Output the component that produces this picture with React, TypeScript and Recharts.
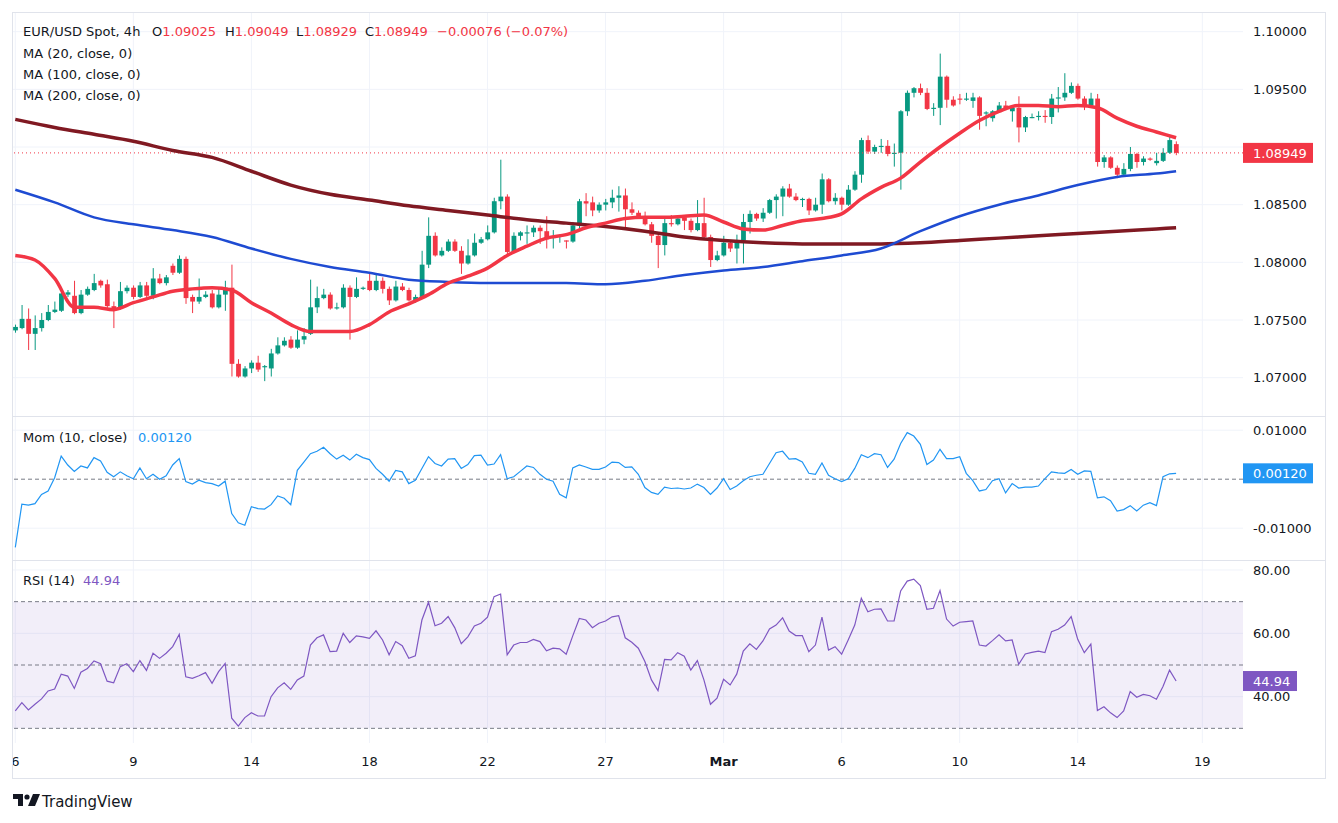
import React from 'react';
import {
  ComposedChart,
  Bar,
  Line,
  XAxis,
  YAxis,
  CartesianGrid,
  ReferenceLine,
  ReferenceArea,
} from 'recharts';

// ---------- DATA ----------
const OPEN = [
  1.0741, 1.0743, 1.0751, 1.0738, 1.0743, 1.0750, 1.0757, 1.0758, 1.0772, 1.0771,
  1.0756, 1.0772, 1.0776, 1.0784, 1.0781, 1.0762, 1.0760, 1.0775, 1.0778, 1.0770,
  1.0780, 1.0771, 1.0786, 1.0782, 1.0797, 1.0791, 1.0803, 1.0770, 1.0766, 1.0770,
  1.0773, 1.0761, 1.0772, 1.0778, 1.0712, 1.0701, 1.0708, 1.0713, 1.0709, 1.0708,
  1.0721, 1.0728, 1.0733, 1.0726, 1.0733, 1.0738, 1.0761, 1.0769, 1.0772, 1.0760,
  1.0761, 1.0778, 1.0770, 1.0777, 1.0784, 1.0776, 1.0784, 1.0777, 1.0767, 1.0779,
  1.0776, 1.0767, 1.0770, 1.0798, 1.0823, 1.0806, 1.0810, 1.0818, 1.0810, 1.0799,
  1.0806, 1.0817, 1.0820, 1.0826, 1.0853, 1.0857, 1.0809, 1.0823, 1.0825, 1.0826,
  1.0830, 1.0827, 1.0821, 1.0823, 1.0819, 1.0818, 1.0832, 1.0853, 1.0852, 1.0845,
  1.0850, 1.0852, 1.0856, 1.0858, 1.0846, 1.0843, 1.0840, 1.0833, 1.0823, 1.0815,
  1.0834, 1.0833, 1.0839, 1.0836, 1.0828, 1.0834, 1.0822, 1.0802, 1.0806, 1.0817,
  1.0812, 1.0819, 1.0835, 1.0842, 1.0838, 1.0843, 1.0854, 1.0857, 1.0864, 1.0857,
  1.0854, 1.0855, 1.0845, 1.0850, 1.0872, 1.0853, 1.0856, 1.0850, 1.0863, 1.0876,
  1.0906, 1.0896, 1.0900, 1.0901, 1.0894, 1.0895, 1.0931, 1.0947, 1.0951, 1.0947,
  1.0933, 1.0934, 1.0961, 1.0941, 1.0942, 1.0941, 1.0940, 1.0943, 1.0929, 1.0925,
  1.0931, 1.0936, 1.0931, 1.0934, 1.0917, 1.0925, 1.0926, 1.0927, 1.0926, 1.0942,
  1.0943, 1.0947, 1.0953, 1.0942, 1.0936, 1.0942, 1.0887, 1.0891, 1.0882, 1.0876,
  1.0881, 1.0894, 1.0887, 1.0890, 1.0886, 1.0888, 1.0895, 1.09025,
];
const HIGH = [
  1.0746, 1.0763, 1.0760, 1.0754, 1.0756, 1.0763, 1.0766, 1.0774, 1.0776, 1.0784,
  1.0776, 1.0779, 1.0790, 1.0785, 1.0785, 1.0766, 1.0783, 1.0780, 1.0780, 1.0783,
  1.0783, 1.0795, 1.0790, 1.0789, 1.0799, 1.0806, 1.0805, 1.0772, 1.0786, 1.0775,
  1.0776, 1.0777, 1.0784, 1.0798, 1.0716, 1.0710, 1.0715, 1.0719, 1.0711, 1.0725,
  1.0735, 1.0735, 1.0736, 1.0741, 1.0743, 1.0785, 1.0779, 1.0777, 1.0774, 1.0765,
  1.0781, 1.0780, 1.0787, 1.0779, 1.0790, 1.0790, 1.0787, 1.0779, 1.0784, 1.0782,
  1.0778, 1.0772, 1.0810, 1.0839, 1.0826, 1.0813, 1.0820, 1.0820, 1.0814, 1.0820,
  1.0825, 1.0822, 1.0832, 1.0856, 1.0889, 1.0859, 1.0826, 1.0827, 1.0832, 1.0832,
  1.0832, 1.0840, 1.0828, 1.0824, 1.0819, 1.0835, 1.0855, 1.0860, 1.0857, 1.0852,
  1.0855, 1.0863, 1.0866, 1.0864, 1.0852, 1.0845, 1.0844, 1.0835, 1.0824, 1.0838,
  1.0841, 1.0841, 1.0840, 1.0838, 1.0854, 1.0856, 1.0824, 1.0810, 1.0823, 1.0818,
  1.0824, 1.0842, 1.0845, 1.0843, 1.0847, 1.0855, 1.0859, 1.0866, 1.0868, 1.0860,
  1.0856, 1.0856, 1.0856, 1.0877, 1.0873, 1.0860, 1.0857, 1.0867, 1.0879, 1.0908,
  1.0910, 1.0902, 1.0907, 1.0906, 1.0903, 1.0932, 1.0949, 1.0952, 1.0955, 1.0951,
  1.0938, 1.0981, 1.0962, 1.0944, 1.0946, 1.0947, 1.0947, 1.0944, 1.0931, 1.0932,
  1.0939, 1.0940, 1.0936, 1.0944, 1.0927, 1.0929, 1.0931, 1.0932, 1.0946, 1.0952,
  1.0964, 1.0956, 1.0955, 1.0944, 1.0947, 1.0946, 1.0893, 1.0892, 1.0884, 1.0886,
  1.0900, 1.0895, 1.0892, 1.0891, 1.0895, 1.0899, 1.0909, 1.09049,
];
const LOW = [
  1.0739, 1.0742, 1.0724, 1.0724, 1.0740, 1.0749, 1.0756, 1.0757, 1.0770, 1.0755,
  1.0755, 1.0771, 1.0775, 1.0778, 1.0760, 1.0743, 1.0759, 1.0773, 1.0768, 1.0769,
  1.0769, 1.0768, 1.0781, 1.0780, 1.0789, 1.0790, 1.0764, 1.0756, 1.0764, 1.0769,
  1.0760, 1.0760, 1.0758, 1.0701, 1.0700, 1.0700, 1.0704, 1.0705, 1.0697, 1.0701,
  1.0720, 1.0727, 1.0725, 1.0725, 1.0729, 1.0737, 1.0756, 1.0768, 1.0759, 1.0759,
  1.0760, 1.0733, 1.0769, 1.0776, 1.0775, 1.0775, 1.0773, 1.0763, 1.0766, 1.0775,
  1.0766, 1.0765, 1.0769, 1.0795, 1.0805, 1.0805, 1.0809, 1.0809, 1.0790, 1.0798,
  1.0805, 1.0816, 1.0819, 1.0825, 1.0846, 1.0807, 1.0808, 1.0819, 1.0816, 1.0822,
  1.0816, 1.0812, 1.0812, 1.0817, 1.0812, 1.0817, 1.0829, 1.0840, 1.0840, 1.0843,
  1.0845, 1.0847, 1.0844, 1.0829, 1.0841, 1.0838, 1.0832, 1.0817, 1.0795, 1.0806,
  1.0831, 1.0832, 1.0828, 1.0826, 1.0827, 1.0821, 1.0796, 1.0801, 1.0805, 1.0809,
  1.0799, 1.0799, 1.0825, 1.0836, 1.0835, 1.0842, 1.0838, 1.0840, 1.0856, 1.0853,
  1.0848, 1.0841, 1.0844, 1.0842, 1.0852, 1.0850, 1.0845, 1.0849, 1.0862, 1.0869,
  1.0894, 1.0894, 1.0895, 1.0892, 1.0883, 1.0863, 1.0927, 1.0943, 1.0945, 1.0932,
  1.0927, 1.0919, 1.0934, 1.0935, 1.0937, 1.0940, 1.0934, 1.0915, 1.0918, 1.0922,
  1.0930, 1.0932, 1.0922, 1.0904, 1.0913, 1.0925, 1.0923, 1.0921, 1.0920, 1.0930,
  1.0940, 1.0946, 1.0941, 1.0932, 1.0935, 1.0883, 1.0882, 1.0881, 1.0873, 1.0874,
  1.0879, 1.0882, 1.0884, 1.0888, 1.0884, 1.0887, 1.0894, 1.08929,
];
const CLOSE = [
  1.0744, 1.0751, 1.0738, 1.0743, 1.0750, 1.0757, 1.0759, 1.0773, 1.0774, 1.0756,
  1.0772, 1.0777, 1.0782, 1.0780, 1.0762, 1.0760, 1.0775, 1.0778, 1.0770, 1.0780,
  1.0771, 1.0786, 1.0782, 1.0787, 1.0791, 1.0803, 1.0769, 1.0766, 1.0770, 1.0772,
  1.0761, 1.0772, 1.0778, 1.0712, 1.0701, 1.0708, 1.0713, 1.0707, 1.0710, 1.0721,
  1.0728, 1.0732, 1.0726, 1.0733, 1.0736, 1.0761, 1.0769, 1.0772, 1.0760, 1.0761,
  1.0778, 1.0770, 1.0777, 1.0778, 1.0776, 1.0784, 1.0777, 1.0767, 1.0779, 1.0776,
  1.0767, 1.0770, 1.0798, 1.0823, 1.0806, 1.0810, 1.0818, 1.0810, 1.0799, 1.0806,
  1.0817, 1.0820, 1.0826, 1.0853, 1.0857, 1.0809, 1.0823, 1.0826, 1.0826, 1.0830,
  1.0827, 1.0820, 1.0822, 1.0823, 1.0818, 1.0832, 1.0853, 1.0851, 1.0845, 1.0850,
  1.0852, 1.0856, 1.0858, 1.0846, 1.0843, 1.0840, 1.0833, 1.0823, 1.0815, 1.0834,
  1.0833, 1.0838, 1.0836, 1.0828, 1.0834, 1.0822, 1.0802, 1.0806, 1.0817, 1.0812,
  1.0819, 1.0835, 1.0842, 1.0838, 1.0843, 1.0854, 1.0857, 1.0864, 1.0857, 1.0854,
  1.0855, 1.0845, 1.0850, 1.0872, 1.0853, 1.0856, 1.0850, 1.0863, 1.0876, 1.0906,
  1.0896, 1.0900, 1.0901, 1.0894, 1.0895, 1.0931, 1.0947, 1.0951, 1.0947, 1.0933,
  1.0934, 1.0961, 1.0941, 1.0936, 1.0941, 1.0942, 1.0943, 1.0927, 1.0930, 1.0931,
  1.0936, 1.0933, 1.0934, 1.0917, 1.0926, 1.0926, 1.0927, 1.0926, 1.0942, 1.0943,
  1.0947, 1.0953, 1.0942, 1.0936, 1.0942, 1.0887, 1.0891, 1.0882, 1.0876, 1.0881,
  1.0894, 1.0887, 1.0890, 1.0889, 1.0888, 1.0895, 1.0906, 1.08949,
];

const MOM = [
  -0.0139, -0.0051, -0.0053, -0.0050, -0.0031, -0.0024, 0.0003, 0.0047, 0.0029, 0.0016,
  0.0027, 0.0023, 0.0044, 0.0037, 0.0014, 0.0005, 0.0015, 0.0007, 0.0001, 0.0023,
  0.0001, 0.0010, 0.0000, 0.0007, 0.0029, 0.0042, -0.0005, -0.0010, -0.0002, -0.0007,
  -0.0009, -0.0014, -0.0004, -0.0070, -0.0089, -0.0094, -0.0056, -0.0060, -0.0061, -0.0052,
  -0.0034, -0.0039, -0.0052, 0.0018, 0.0035, 0.0052, 0.0057, 0.0065, 0.0052, 0.0041,
  0.0049, 0.0039, 0.0051, 0.0044, 0.0040, 0.0022, 0.0010, -0.0004, 0.0018, 0.0015,
  -0.0009, -0.0002, 0.0022, 0.0046, 0.0032, 0.0027, 0.0041, 0.0042, 0.0022, 0.0030,
  0.0048, 0.0049, 0.0029, 0.0031, 0.0050, 0.0001, 0.0005, 0.0016, 0.0027, 0.0024,
  0.0010, 0.0000, -0.0004, -0.0031, -0.0038, 0.0023, 0.0029, 0.0025, 0.0020, 0.0020,
  0.0025, 0.0035, 0.0034, 0.0024, 0.0025, 0.0010, -0.0017, -0.0027, -0.0031, -0.0016,
  -0.0019, -0.0018, -0.0020, -0.0018, -0.0010, -0.0017, -0.0031, -0.0018, 0.0001, -0.0021,
  -0.0014, -0.0003, 0.0005, 0.0008, 0.0010, 0.0032, 0.0054, 0.0057, 0.0041, 0.0042,
  0.0035, 0.0012, 0.0010, 0.0033, 0.0008, 0.0001, -0.0005, 0.0001, 0.0022, 0.0050,
  0.0044, 0.0052, 0.0050, 0.0024, 0.0041, 0.0073, 0.0095, 0.0088, 0.0071, 0.0030,
  0.0039, 0.0061, 0.0042, 0.0042, 0.0046, 0.0012, -0.0003, -0.0024, -0.0021, -0.0003,
  0.0001, -0.0028, -0.0009, -0.0018, -0.0016, -0.0016, -0.0014, 0.0001, 0.0015, 0.0013,
  0.0012, 0.0020, 0.0010, 0.0017, 0.0016, -0.0038, -0.0036, -0.0044, -0.0065, -0.0062,
  -0.0054, -0.0065, -0.0053, -0.0048, -0.0054, 0.0005, 0.0011, 0.0012,
];

const RSI = [
  35.5, 38.1, 35.8, 37.6, 39.3, 41.8, 42.4, 47.1, 46.5, 42.6,
  47.7, 48.9, 51.3, 50.4, 44.9, 44.4, 49.5, 50.4, 47.9, 51.4,
  48.3, 53.7, 52.1, 53.7, 55.8, 59.7, 46.3, 45.8, 46.6, 47.6,
  44.2, 47.9, 50.5, 33.2, 30.7, 33.4, 34.9, 33.9, 33.9, 40.0,
  42.8, 44.4, 42.3, 45.3, 46.5, 56.3, 58.6, 59.5, 54.2, 54.4,
  60.0, 57.1, 59.2, 58.9, 58.4, 60.8, 57.9, 53.2, 57.4, 56.1,
  52.1, 52.9, 64.2, 69.8, 62.4, 63.2, 65.3, 61.8, 56.7, 58.9,
  62.3, 63.2, 65.1, 71.6, 72.4, 53.2, 56.3, 57.1, 57.1, 58.1,
  57.4, 54.5, 55.3, 55.1, 53.4, 59.2, 64.7, 64.2, 61.8, 63.2,
  63.9, 65.2, 65.6, 58.6, 57.2, 55.3, 51.1, 45.3, 41.9, 51.8,
  51.6, 53.9, 52.8, 48.4, 51.4, 45.3, 37.6, 39.5, 45.5, 43.7,
  47.1, 54.4, 56.7, 54.9, 57.6, 61.4, 62.6, 64.9, 60.7, 59.3,
  59.3, 54.2, 56.3, 65.1, 54.7, 55.8, 53.4, 57.9, 62.6, 71.1,
  66.8, 67.6, 67.7, 63.9, 63.9, 73.4, 76.5, 77.1, 75.1, 67.6,
  67.9, 73.5, 64.5, 62.3, 63.5, 63.7, 63.9, 56.3, 56.0, 57.7,
  59.5, 57.6, 57.9, 50.2, 53.5, 54.0, 54.4, 53.9, 60.5, 61.3,
  62.6, 65.3, 58.1, 53.9, 56.6, 35.6, 36.8, 34.9, 33.4, 35.5,
  41.6, 39.8, 40.7, 40.3, 39.2, 43.2, 48.4, 44.94,
];

const MA20_IDX = [
  0, 3, 6, 9, 12, 15, 18, 21, 24, 27, 30, 33, 36, 39, 42, 45, 48, 51, 54, 57,
  60, 63, 66, 69, 72, 75, 78, 81, 84, 87, 90, 93, 96, 99, 102, 105, 108, 111, 114, 117,
  120, 123, 126, 129, 132, 135, 138, 141, 144, 147, 150, 153, 156, 159, 162, 165, 168, 171, 174, 177,
];
const MA20 = [
  1.0806, 1.0802, 1.0786, 1.0761, 1.0761, 1.0759, 1.0765, 1.0770, 1.0775, 1.0777,
  1.0778, 1.0776, 1.0765, 1.0756, 1.0746, 1.0740, 1.0740, 1.0740, 1.0746, 1.0757,
  1.0764, 1.0772, 1.0782, 1.0788, 1.0795, 1.0806, 1.0814, 1.0821, 1.0824, 1.0830,
  1.0834, 1.0838, 1.0839, 1.0839, 1.0840, 1.0841, 1.0835, 1.0829, 1.0828, 1.0832,
  1.0836, 1.0838, 1.0842, 1.0855, 1.0865, 1.0873, 1.0887, 1.0900, 1.0912, 1.0923,
  1.0931, 1.0936, 1.0936, 1.0935, 1.0936, 1.0934, 1.0925, 1.0918, 1.0913, 1.0908,
];
const MA_LONG_IDX = [
  0, 6, 12, 18, 24, 30, 36, 42, 48, 54, 60, 66, 72, 78, 84, 90,
  96, 102, 108, 114, 120, 126, 132, 138, 144, 150, 156, 162, 168, 174, 177,
];
const MA100 = [
  1.0863, 1.0852, 1.0839, 1.0833, 1.0828, 1.0822, 1.0812, 1.0803, 1.0796, 1.0791,
  1.0785, 1.0783, 1.0782, 1.0782, 1.0782, 1.0781, 1.0784, 1.0789, 1.0793, 1.0796,
  1.0801, 1.0806, 1.0812, 1.0827, 1.0840, 1.0850, 1.0858, 1.0867, 1.0874, 1.0877, 1.0879,
];
const MA200 = [
  1.0924, 1.0917, 1.0911, 1.0905, 1.0897, 1.0891, 1.0879, 1.0867, 1.0859, 1.0854,
  1.0849, 1.0845, 1.0841, 1.0837, 1.0834, 1.0831, 1.0827, 1.0822, 1.0819, 1.0817,
  1.0816, 1.0816, 1.0816, 1.0817, 1.0819, 1.0821, 1.0823, 1.0825, 1.0827, 1.0829, 1.0830,
];

const X_TICKS = [0, 18, 36, 54, 72, 90, 108, 126, 144, 162, 181];
const X_LABELS = ['6', '9', '14', '18', '22', '27', 'Mar', '6', '10', '14', '19'];
const PRICE_TICKS = [1.07, 1.075, 1.08, 1.085, 1.09, 1.095, 1.1];
const MOM_TICKS = [-0.01, 0, 0.01];
const RSI_TICKS = [40, 60, 80];

const LAST_CLOSE = CLOSE[CLOSE.length - 1];
const LAST_MOM = MOM[MOM.length - 1];
const LAST_RSI = RSI[RSI.length - 1];

// ---------- table for the library ----------
const rows: any[] = CLOSE.map((c, i) => ({
  i,
  o: OPEN[i],
  h: HIGH[i],
  l: LOW[i],
  c,
  mom: MOM[i],
  rsi: RSI[i],
  ma20: null,
  ma100: null,
  ma200: null,
}));
MA20_IDX.forEach((k, j) => (rows[k].ma20 = MA20[j]));
MA_LONG_IDX.forEach((k, j) => {
  rows[k].ma100 = MA100[j];
  rows[k].ma200 = MA200[j];
});

// ---------- styles ----------
const FONT = "'DejaVu Sans', 'Noto Sans', sans-serif";
const TEXT = '#131722';
const UP = '#089981';
const DOWN = '#F23645';
const GRID = '#F0F3FA';
const BORDER = '#E0E3EB';
const CHART_W = 1312;
const AXIS_W = 82;
const X_DOMAIN: [number, number] = [-0.35, 187.2];

const Candle = (props: any) => {
  const { x, y, width, height, payload } = props;
  if (payload == null || x == null || y == null) return <g />;
  const { o, h, l, c } = payload;
  const top = Math.min(y, y + height);
  const bottom = Math.max(y, y + height);
  const range = h - l;
  const k = range > 0 ? (bottom - top) / range : 0;
  const yO = top + (h - o) * k;
  const yC = top + (h - c) * k;
  const color = c >= o ? UP : DOWN;
  const cx = x + width / 2;
  const bTop = Math.min(yO, yC);
  const bH = Math.max(1, Math.abs(yO - yC));
  return (
    <g>
      <line x1={cx} x2={cx} y1={top} y2={bottom} stroke={color} strokeWidth={1} />
      <rect x={cx - 2.4} y={bTop} width={4.8} height={bH} fill={color} />
    </g>
  );
};

const makeYTick =
  (fmt: (v: number) => string, last: number, boxColor: string, boxW: number, skip: (v: number) => boolean) =>
  (props: any) => {
    const { x, y, payload } = props;
    const v = payload.value;
    if (v === last) {
      return (
        <g>
          <rect x={x - 10} y={y - 10} width={boxW} height={20} fill={boxColor} />
          <text x={x} y={y} dy="0.355em" fill="#ffffff" fontSize={13} fontFamily={FONT}>
            {fmt(v)}
          </text>
        </g>
      );
    }
    if (skip(v)) return <g />;
    return (
      <text x={x} y={y} dy="0.355em" fill={TEXT} fontSize={13} fontFamily={FONT}>
        {fmt(v)}
      </text>
    );
  };

const priceTick = makeYTick((v) => v.toFixed(5), LAST_CLOSE, DOWN, 70, (v) => Math.abs(v - LAST_CLOSE) < 0.0012);
const momTick = makeYTick((v) => v.toFixed(5), LAST_MOM, '#2196F3', 70, (v) => Math.abs(v - LAST_MOM) < 0.002);
const rsiTick = makeYTick((v) => v.toFixed(2), LAST_RSI, '#7E57C2', 54, () => false);

const xTick = (props: any) => {
  const { x, y, payload } = props;
  const idx = X_TICKS.indexOf(payload.value);
  const label = idx >= 0 ? X_LABELS[idx] : '';
  return (
    <text
      x={x}
      y={y}
      dy="0.71em"
      textAnchor="middle"
      fill={TEXT}
      fontSize={13}
      fontFamily={FONT}
      fontWeight={label === 'Mar' ? 700 : 400}
    >
      {label}
    </text>
  );
};

const hiddenX = (
  <XAxis
    dataKey="i"
    type="number"
    scale="linear"
    domain={X_DOMAIN}
    ticks={X_TICKS}
    interval={0}
    allowDataOverflow
    hide
  />
);

const Txt = ({ x, y, children, color = TEXT, size = 13, weight = 400 }: any) => (
  <div
    style={{
      position: 'absolute',
      left: x,
      top: y,
      fontSize: size,
      lineHeight: '16px',
      color,
      fontWeight: weight,
      whiteSpace: 'nowrap',
      fontFamily: FONT,
    }}
  >
    {children}
  </div>
);

export default function App() {
  return (
    <div
      style={{
        position: 'absolute',
        left: 0,
        top: 0,
        width: 1338,
        height: 823,
        background: '#ffffff',
        overflow: 'hidden',
        fontFamily: FONT,
      }}
    >
      {/* frame */}
      <div
        style={{
          position: 'absolute',
          left: 12,
          top: 12,
          width: 1314,
          height: 767,
          border: `1px solid ${BORDER}`,
          boxSizing: 'border-box',
        }}
      />

      {/* main price pane */}
      <div style={{ position: 'absolute', left: 13, top: 13 }}>
        <ComposedChart width={CHART_W} height={404} data={rows} margin={{ top: 0, right: 0, bottom: 0, left: 0 }}>
          <CartesianGrid stroke={GRID} horizontalValues={PRICE_TICKS} verticalValues={X_TICKS} />
          {hiddenX}
          <YAxis
            orientation="right"
            width={AXIS_W}
            domain={[1.06659, 1.10162]}
            ticks={[...PRICE_TICKS, LAST_CLOSE]}
            interval={0}
            allowDataOverflow
            axisLine={false}
            tickLine={false}
            tickSize={4}
            tickMargin={6}
            tick={priceTick}
          />
          <ReferenceLine y={LAST_CLOSE} stroke={DOWN} strokeDasharray="1 3" strokeWidth={1} />
          <Bar dataKey={(d: any) => [d.l, d.h]} barSize={5} shape={Candle} isAnimationActive={false} />
          <Line dataKey="ma200" type="monotone" stroke="#801922" strokeWidth={3.5} dot={false} connectNulls isAnimationActive={false} />
          <Line dataKey="ma100" type="monotone" stroke="#1E4BD2" strokeWidth={2.5} dot={false} connectNulls isAnimationActive={false} />
          <Line dataKey="ma20" type="monotone" stroke={DOWN} strokeWidth={3.5} dot={false} connectNulls isAnimationActive={false} />
        </ComposedChart>
      </div>

      <div style={{ position: 'absolute', left: 13, top: 416, width: 1312, height: 1, background: BORDER }} />

      {/* momentum pane */}
      <div style={{ position: 'absolute', left: 13, top: 417 }}>
        <ComposedChart width={CHART_W} height={144} data={rows} margin={{ top: 0, right: 0, bottom: 0, left: 0 }}>
          <CartesianGrid stroke={GRID} horizontalValues={[-0.01, 0.01]} verticalValues={X_TICKS} />
          {hiddenX}
          <YAxis
            orientation="right"
            width={AXIS_W}
            domain={[-0.016694, 0.012694]}
            ticks={[...MOM_TICKS, LAST_MOM]}
            interval={0}
            allowDataOverflow
            axisLine={false}
            tickLine={false}
            tickSize={4}
            tickMargin={6}
            tick={momTick}
          />
          <ReferenceLine y={0} stroke="#787B86" strokeDasharray="4 3" strokeWidth={1} />
          <Line dataKey="mom" type="linear" stroke="#2196F3" strokeWidth={1.2} dot={false} isAnimationActive={false} />
        </ComposedChart>
      </div>

      <div style={{ position: 'absolute', left: 13, top: 560, width: 1312, height: 1, background: BORDER }} />

      {/* RSI pane */}
      <div style={{ position: 'absolute', left: 13, top: 561 }}>
        <ComposedChart width={CHART_W} height={217} data={rows} margin={{ top: 0, right: 0, bottom: 0, left: 0 }}>
          <CartesianGrid stroke={GRID} horizontalValues={[40, 60, 80]} verticalValues={X_TICKS} />
          <XAxis
            dataKey="i"
            type="number"
            scale="linear"
            domain={X_DOMAIN}
            ticks={X_TICKS}
            interval={0}
            allowDataOverflow
            height={35}
            axisLine={false}
            tickLine={false}
            tickSize={6}
            tickMargin={8}
            tick={xTick}
          />
          <YAxis
            orientation="right"
            width={AXIS_W}
            domain={[25.37, 82.84]}
            ticks={[...RSI_TICKS, LAST_RSI]}
            interval={0}
            allowDataOverflow
            axisLine={false}
            tickLine={false}
            tickSize={4}
            tickMargin={6}
            tick={rsiTick}
          />
          <ReferenceArea y1={30} y2={70} fill="#7E57C2" fillOpacity={0.1} stroke="none" />
          <ReferenceLine y={70} stroke="#787B86" strokeDasharray="4 3" strokeWidth={1} />
          <ReferenceLine y={50} stroke="#787B86" strokeDasharray="4 3" strokeWidth={1} />
          <ReferenceLine y={30} stroke="#787B86" strokeDasharray="4 3" strokeWidth={1} />
          <Line dataKey="rsi" type="linear" stroke="#7E57C2" strokeWidth={1.2} dot={false} isAnimationActive={false} />
        </ComposedChart>
      </div>

      {/* legends */}
      <Txt x={23} y={24}>EUR/USD Spot, 4h</Txt>
      <Txt x={152} y={24}>
        O<span style={{ color: DOWN }}>1.09025</span>
      </Txt>
      <Txt x={225} y={24}>
        H<span style={{ color: DOWN }}>1.09049</span>
      </Txt>
      <Txt x={296} y={24}>
        L<span style={{ color: DOWN }}>1.08929</span>
      </Txt>
      <Txt x={365} y={24}>
        C<span style={{ color: DOWN }}>1.08949</span>
      </Txt>
      <Txt x={437} y={24} color={DOWN}>
        −0.00076 (−0.07%)
      </Txt>
      <Txt x={23} y={46}>MA (20, close, 0)</Txt>
      <Txt x={23} y={67}>MA (100, close, 0)</Txt>
      <Txt x={23} y={88}>MA (200, close, 0)</Txt>

      <Txt x={23} y={430}>Mom (10, close)</Txt>
      <Txt x={138} y={430} color="#2196F3">
        0.00120
      </Txt>
      <Txt x={23} y={573}>RSI (14)</Txt>
      <Txt x={83} y={573} color="#7E57C2">
        44.94
      </Txt>

      {/* TradingView logo */}
      <svg style={{ position: 'absolute', left: 13, top: 794 }} width={28} height={14} viewBox="0 0 28 14">
        <path d="M0 0 H10 V12 H5 V5 H0 Z" fill={TEXT} />
        <circle cx={14} cy={3} r={2.6} fill={TEXT} />
        <path d="M20 0 H27 L22 12 H15 Z" fill={TEXT} />
      </svg>
      <Txt x={42} y={794} size={15}>
        TradingView
      </Txt>
    </div>
  );
}
